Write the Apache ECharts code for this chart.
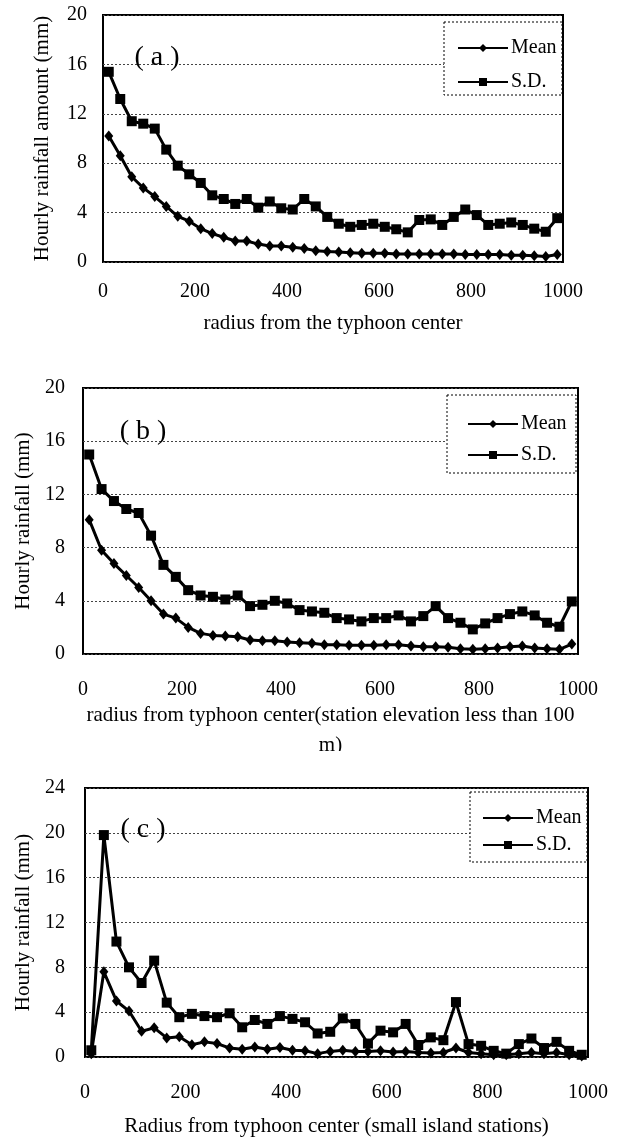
<!DOCTYPE html>
<html>
<head>
<meta charset="utf-8">
<script src="https://cdn.jsdelivr.net/npm/echarts@6/dist/echarts.min.js"></script>
<style>
  html, body { margin: 0; padding: 0; background: #fff; }
  #chart { width: 625px; height: 1142px; }
</style>
</head>
<body>
<div id="chart"></div>
<script>
'use strict';

// bin centres (km), 25 km bins
var radius = [12.5, 37.5, 62.5, 87.5, 112.5, 137.5, 162.5, 187.5, 212.5, 237.5,
    262.5, 287.5, 312.5, 337.5, 362.5, 387.5, 412.5, 437.5, 462.5, 487.5,
    512.5, 537.5, 562.5, 587.5, 612.5, 637.5, 662.5, 687.5, 712.5, 737.5,
    762.5, 787.5, 812.5, 837.5, 862.5, 887.5, 912.5, 937.5, 962.5, 987.5];

var xTicks = [0, 200, 400, 600, 800, 1000];

// (a) all stations
var meanA = [10.2, 8.6, 6.9, 6.0, 5.3, 4.5, 3.7, 3.3, 2.7, 2.3,
    2.0, 1.7, 1.7, 1.45, 1.3, 1.3, 1.2, 1.1, 0.92, 0.85,
    0.8, 0.75, 0.7, 0.7, 0.7, 0.65, 0.65, 0.65, 0.65, 0.65,
    0.65, 0.6, 0.6, 0.6, 0.6, 0.55, 0.55, 0.5, 0.45, 0.6];
var sdA = [15.4, 13.2, 11.4, 11.2, 10.8, 9.1, 7.8, 7.1, 6.4, 5.4,
    5.1, 4.7, 5.1, 4.4, 4.9, 4.35, 4.25, 5.1, 4.5, 3.65,
    3.1, 2.85, 3.0, 3.1, 2.85, 2.65, 2.4, 3.4, 3.45, 3.0,
    3.65, 4.25, 3.8, 3.0, 3.1, 3.2, 3.0, 2.7, 2.45, 3.55];

// (b) station elevation < 100 m
var meanB = [10.1, 7.8, 6.8, 5.9, 5.0, 4.0, 3.0, 2.7, 2.0, 1.55,
    1.4, 1.35, 1.3, 1.05, 1.0, 1.0, 0.9, 0.85, 0.8, 0.7,
    0.7, 0.65, 0.65, 0.65, 0.7, 0.7, 0.6, 0.55, 0.55, 0.5,
    0.4, 0.35, 0.4, 0.45, 0.55, 0.6, 0.45, 0.4, 0.35, 0.75];
var sdB = [15.0, 12.4, 11.5, 10.9, 10.6, 8.9, 6.7, 5.8, 4.8, 4.4,
    4.3, 4.1, 4.4, 3.6, 3.7, 4.0, 3.8, 3.3, 3.2, 3.1,
    2.7, 2.6, 2.45, 2.7, 2.7, 2.9, 2.45, 2.85, 3.6, 2.7,
    2.35, 1.85, 2.3, 2.7, 3.0, 3.2, 2.9, 2.35, 2.05, 3.95];

// (c) small island stations
var meanC = [0.3, 7.6, 5.0, 4.1, 2.3, 2.6, 1.7, 1.8, 1.1, 1.35,
    1.2, 0.8, 0.7, 0.9, 0.7, 0.85, 0.6, 0.55, 0.3, 0.5,
    0.6, 0.5, 0.5, 0.55, 0.45, 0.5, 0.4, 0.35, 0.4, 0.8,
    0.4, 0.3, 0.2, 0.2, 0.3, 0.4, 0.3, 0.4, 0.2, 0.1];
var sdC = [0.6, 19.8, 10.3, 8.0, 6.6, 8.6, 4.85, 3.55, 3.85, 3.65,
    3.55, 3.9, 2.65, 3.3, 2.95, 3.65, 3.4, 3.1, 2.1, 2.25,
    3.45, 2.95, 1.2, 2.35, 2.2, 2.95, 1.07, 1.75, 1.5, 4.9,
    1.15, 1.0, 0.55, 0.3, 1.15, 1.65, 0.8, 1.35, 0.55, 0.2];

var FONT = 'Liberation Serif';
var txt = {color: '#000', fontFamily: FONT, fontSize: 20};
var nameTxt = {color: '#000', fontFamily: FONT, fontSize: 21};

function pairs(vals) {
    return radius.map(function (r, k) { return [r, vals[k]]; });
}

function plain(v) { return String(v); }

function xAxisOf(idx, name, gap, margin) {
    return {
        gridIndex: idx, type: 'value', min: xTicks[0], max: xTicks[xTicks.length - 1], interval: 200,
        axisLine: {show: false}, axisTick: {show: false}, splitLine: {show: false},
        axisLabel: Object.assign({margin: margin, formatter: plain}, txt),
        name: name, nameLocation: 'middle', nameGap: gap,
        nameTextStyle: Object.assign({lineHeight: 30}, nameTxt)
    };
}

function yAxisOf(idx, max, name, gap, margin) {
    return {
        gridIndex: idx, type: 'value', min: 0, max: max, interval: 4,
        axisLine: {show: false}, axisTick: {show: false},
        splitLine: {lineStyle: {color: '#444', width: 1, type: [2, 2]}},
        axisLabel: Object.assign({margin: margin, formatter: plain}, txt),
        name: name, nameLocation: 'middle', nameGap: gap, nameTextStyle: nameTxt
    };
}

function lineSeries(name, idx, vals, symbol, size) {
    return {
        name: name, type: 'line', xAxisIndex: idx, yAxisIndex: idx,
        data: pairs(vals), symbol: symbol, symbolSize: size,
        lineStyle: {color: '#000', width: 3}, itemStyle: {color: '#000'},
        emphasis: {disabled: true}
    };
}

function legendOf(left, top, gap) {
    return {
        data: ['Mean', 'S.D.'], orient: 'vertical', left: left, top: top,
        itemWidth: 50, itemHeight: 10, itemGap: gap, selectedMode: false,
        textStyle: Object.assign({padding: [0, 0, 0, -2]}, txt)
    };
}

function legendBox(x1, y1, x2, y2) {
    return {
        type: 'rect', z: 3, shape: {x: x1, y: y1, width: x2 - x1, height: y2 - y1},
        style: {fill: '#fff', stroke: '#000', lineWidth: 1, lineDash: [2, 2]}
    };
}

function panelTag(text, x, y) {
    return {
        type: 'text', z: 5, x: x, y: y,
        style: {text: text, fontFamily: FONT, fontSize: 28, fill: '#000', align: 'center', verticalAlign: 'middle'}
    };
}

var gridBase = {show: true, borderColor: '#000', borderWidth: 2, backgroundColor: '#fff'};

var option = {
    animation: false,
    backgroundColor: '#fff',
    grid: [
        Object.assign({left: 103, top: 15, width: 460, height: 247}, gridBase),
        Object.assign({left: 83, top: 388, width: 495, height: 266}, gridBase),
        Object.assign({left: 85, top: 788, width: 503, height: 269}, gridBase)
    ],
    xAxis: [
        xAxisOf(0, 'radius from the typhoon center', 46, 20),
        xAxisOf(1, 'radius from typhoon center(station elevation less than 100\nm)', 46, 26),
        xAxisOf(2, 'Radius from typhoon center (small island stations)', 54, 26)
    ],
    yAxis: [
        yAxisOf(0, 20, 'Hourly rainfall amount (mm)', 50, 16),
        yAxisOf(1, 20, 'Hourly rainfall (mm)', 46, 18),
        yAxisOf(2, 24, 'Hourly rainfall (mm)', 50, 20)
    ],
    legend: [
        legendOf(452, 33, 14),
        legendOf(462, 409, 11),
        legendOf(477, 803, 7)
    ],
    graphic: [
        legendBox(444, 22, 562, 95),
        legendBox(447, 395, 576, 473),
        legendBox(470, 792, 587, 862),
        panelTag('( a )', 157, 58),
        panelTag('( b )', 143, 432),
        panelTag('( c )', 143, 830),
        // the second line of (b)'s axis title is cut off in the original
        {type: 'rect', z: 10, shape: {x: 290, y: 751, width: 80, height: 25}, style: {fill: '#fff'}}
    ],
    series: [
        lineSeries('Mean', 0, meanA, 'diamond', [9, 11]),
        lineSeries('S.D.', 0, sdA, 'rect', 10),
        lineSeries('Mean', 1, meanB, 'diamond', [9, 11]),
        lineSeries('S.D.', 1, sdB, 'rect', 10),
        lineSeries('Mean', 2, meanC, 'diamond', [9, 11]),
        lineSeries('S.D.', 2, sdC, 'rect', 10)
    ]
};

var chart = echarts.init(document.getElementById('chart'), null, {renderer: 'canvas'});
chart.setOption(option);
</script>
</body>
</html>
